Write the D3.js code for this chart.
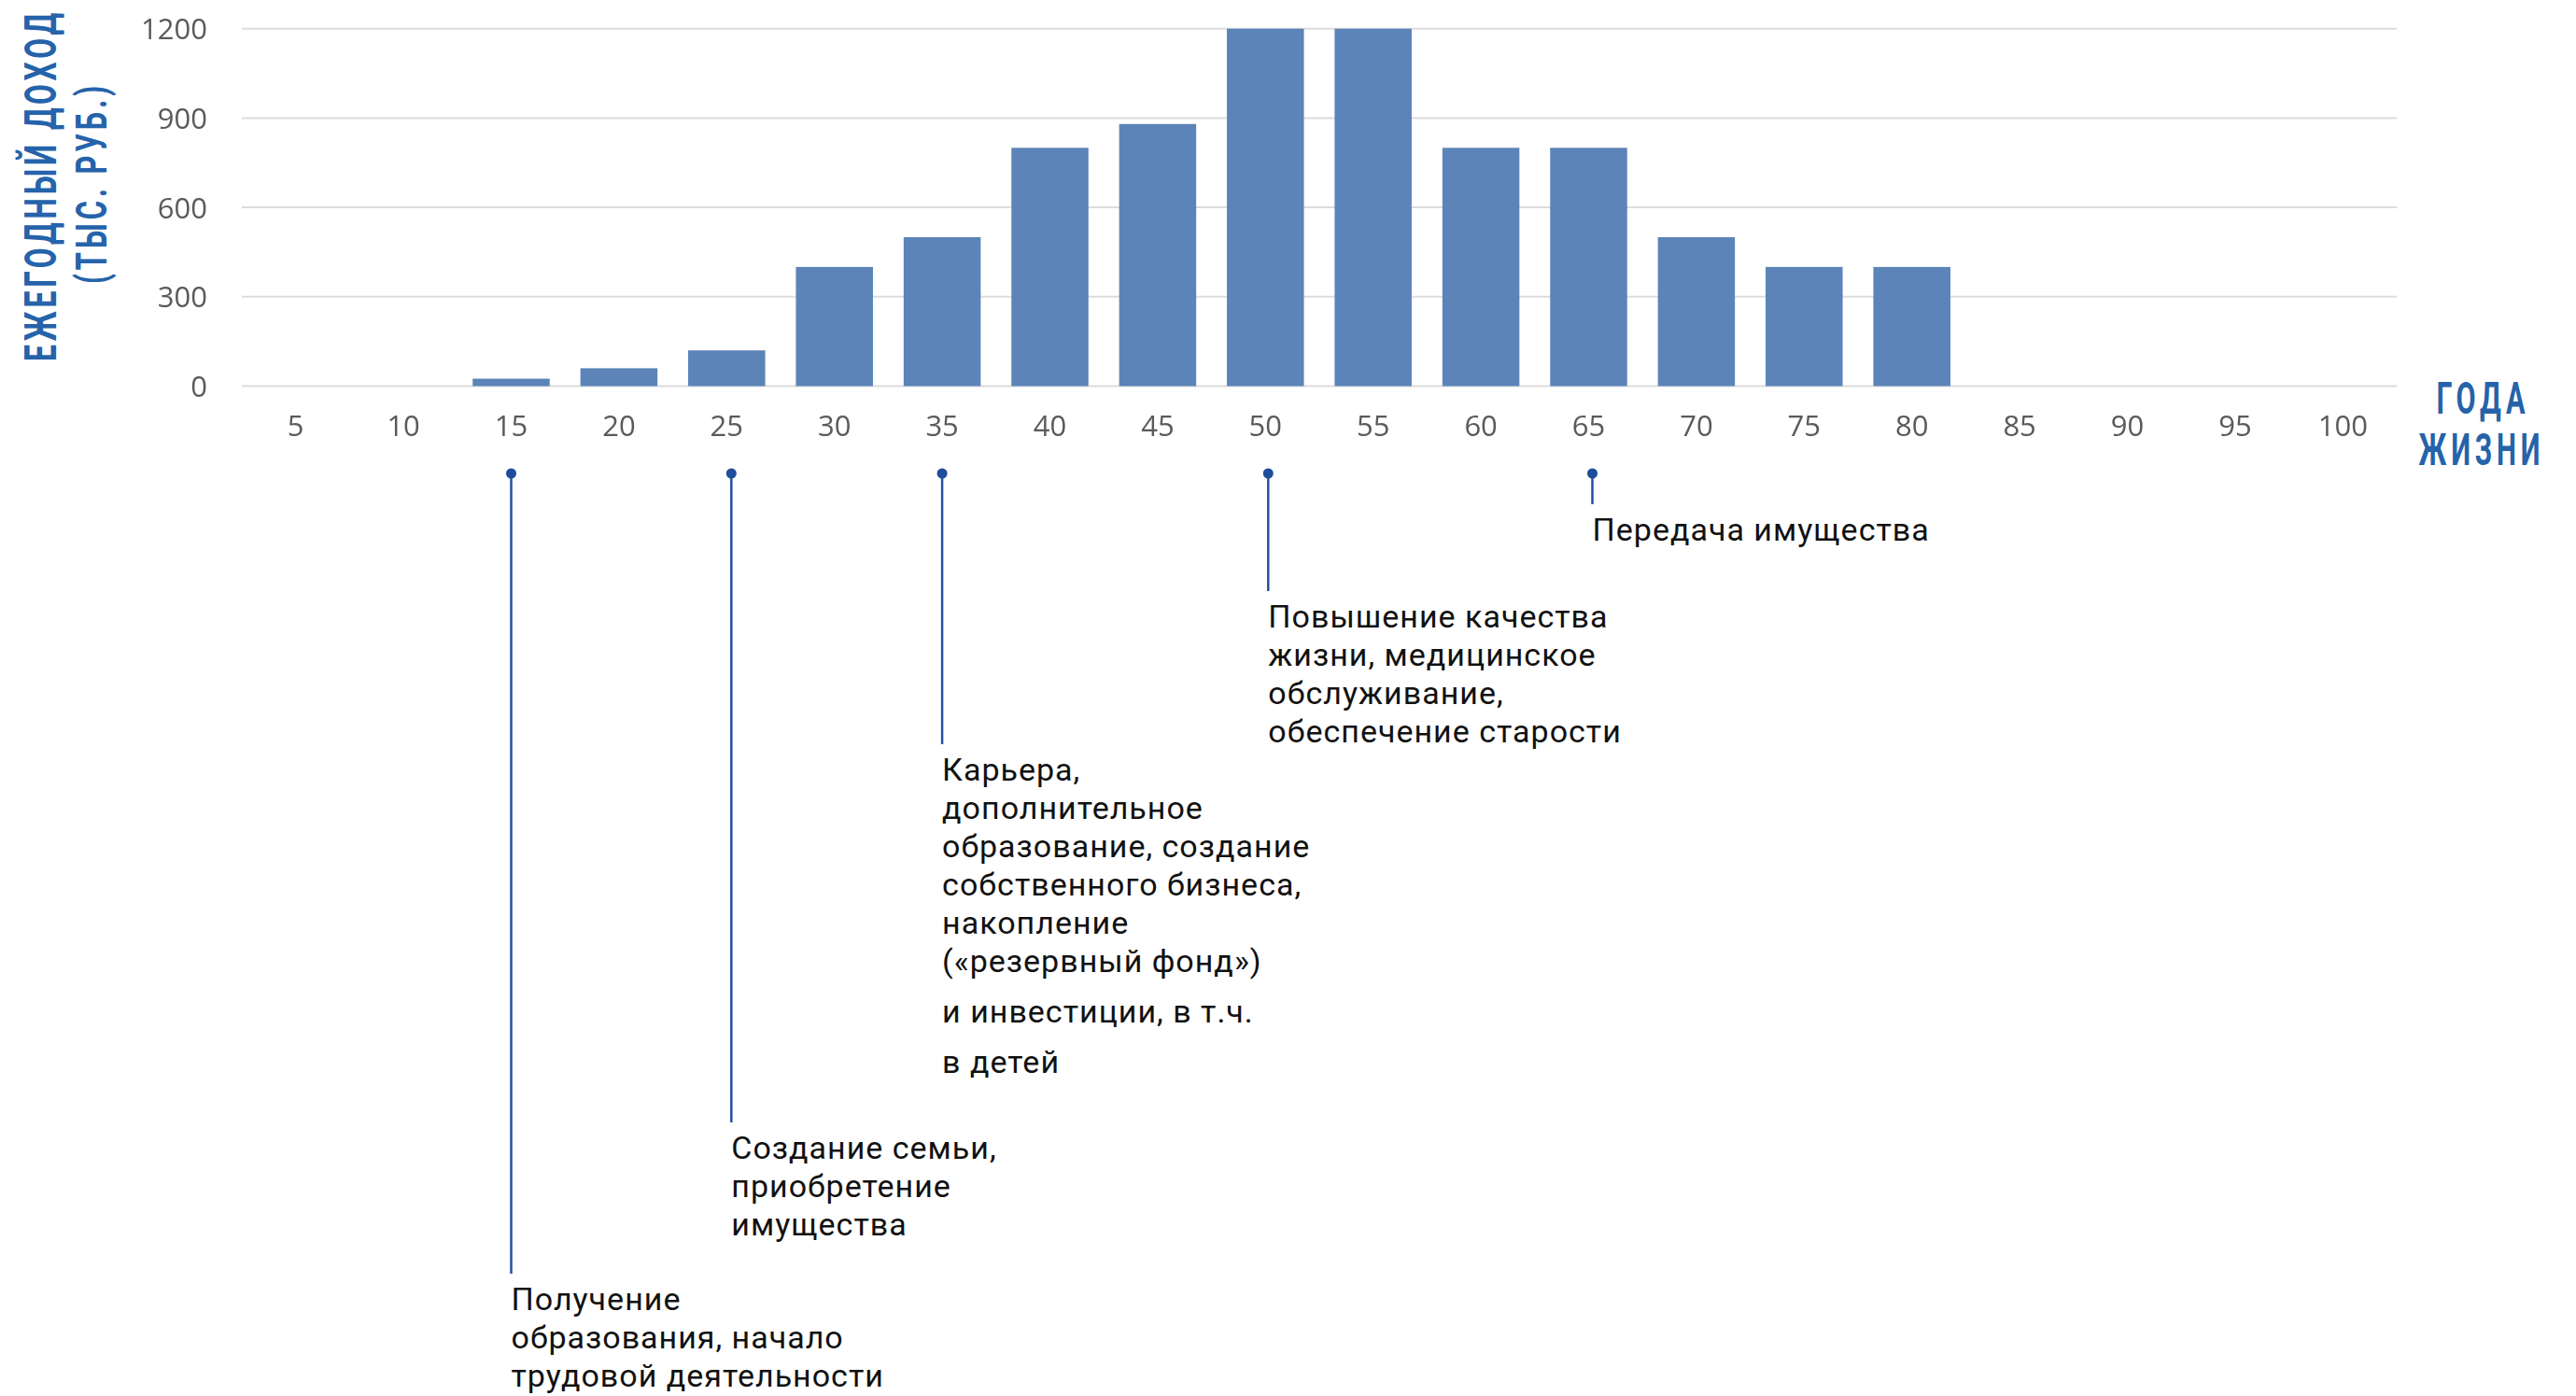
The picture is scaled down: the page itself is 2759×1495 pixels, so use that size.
<!DOCTYPE html>
<html lang="ru">
<head>
<meta charset="utf-8">
<script src="https://cdn.jsdelivr.net/npm/d3@7"></script>
<style>
  html, body { margin: 0; padding: 0; background: #ffffff; }
  svg { display: block; }
</style>
</head>
<body>
<svg id="chart" width="2759" height="1495"></svg>
<script>
// Age groups on the horizontal axis (years of life)
const ages = [5, 10, 15, 20, 25, 30, 35, 40, 45, 50, 55, 60, 65, 70, 75, 80, 85, 90, 95, 100];
// Annual income, thousand roubles
const income = [0, 0, 25, 60, 120, 400, 500, 800, 880, 1200, 1200, 800, 800, 500, 400, 400, 0, 0, 0, 0];
// Value axis ticks
const incomeTicks = [0, 300, 600, 900, 1200];

// Axis titles
const yTitleLines = ["ЕЖЕГОДНЫЙ ДОХОД", "(ТЫС. РУБ.)"];
const xTitleLines = ["ГОДА", "ЖИЗНИ"];

// Life-stage notes: the age each one points at, and its text split into paragraphs of lines
const noteAges = [15, 25, 35, 50, 65];
const noteTexts = [
  [["Получение", "образования, начало", "трудовой деятельности"]],
  [["Создание семьи,", "приобретение", "имущества"]],
  [["Карьера,", "дополнительное", "образование, создание", "собственного бизнеса,", "накопление", "(«резервный фонд»)"],
   ["и инвестиции, в т.ч."],
   ["в детей"]],
  [["Повышение качества", "жизни, медицинское", "обслуживание,", "обеспечение старости"]],
  [["Передача имущества"]]
];

// ---- layout ----
const layout = {
  plotLeft: 259, plotRight: 2567,
  plotBottom: 413.5, plotTop: 30.7,
  tickLabelRight: 222, xLabelTop: 445,
  noteTop: 507,
  noteNudge: [0, 5, 0, 3, 4],
  noteLineEnd: [1364, 1202, 797, 633, 540],
  noteTextGap: 39, noteLineHeight: 41, noteParaHeight: 54
};

const BAR = "#5b84b8";
const GRID = "#dcdcdc";
const TICK = "#5a5a5a";
const TITLE = "#2563aa";
const NOTE_LINE = "#2650a2";

const svg = d3.select("#chart");

const defs = svg.append("defs");
defs.append("filter").attr("id", "soft")
  .attr("x", "-5%").attr("y", "-5%").attr("width", "110%").attr("height", "110%")
  .append("feGaussianBlur").attr("stdDeviation", 0.6);

const x = d3.scaleBand()
  .domain(ages)
  .range([layout.plotLeft, layout.plotRight])
  .paddingInner(0.285)
  .paddingOuter(0.1425);

const y = d3.scaleLinear()
  .domain([0, 1200])
  .range([layout.plotBottom, layout.plotTop]);

const chart = svg.append("g").attr("filter", "url(#soft)");

// horizontal gridlines
chart.append("g").selectAll("line")
  .data(incomeTicks)
  .join("line")
  .attr("x1", layout.plotLeft)
  .attr("x2", layout.plotRight)
  .attr("y1", d => y(d))
  .attr("y2", d => y(d))
  .attr("stroke", GRID)
  .attr("stroke-width", 2);

// bars
chart.append("g").selectAll("rect")
  .data(ages.map((a, i) => ({ age: a, value: income[i] })).filter(d => d.value > 0))
  .join("rect")
  .attr("x", d => x(d.age))
  .attr("width", x.bandwidth())
  .attr("y", d => y(d.value))
  .attr("height", d => y(0) - y(d.value))
  .attr("fill", BAR);

// value axis labels
const yAxis = chart.append("g")
  .attr("transform", `translate(${layout.tickLabelRight},0)`)
  .call(d3.axisLeft(y).tickValues(incomeTicks).tickFormat(d3.format("d")).tickSize(0).tickPadding(0));
yAxis.select(".domain").remove();
yAxis.selectAll("text")
  .attr("font-family", "'Open Sans', 'Noto Sans', sans-serif")
  .attr("font-size", 31)
  .attr("fill", TICK)
  .attr("dy", "0.36em");

// age axis labels
const xAxis = chart.append("g")
  .attr("transform", `translate(0,${layout.xLabelTop})`)
  .call(d3.axisBottom(x).tickSize(0).tickPadding(0));
xAxis.select(".domain").remove();
xAxis.selectAll("text")
  .attr("font-family", "'Open Sans', 'Noto Sans', sans-serif")
  .attr("font-size", 31)
  .attr("fill", TICK)
  .attr("dy", "0.71em");

// Condensed heading text: natural Roboto Bold, narrowed to a target length
function condensedText(parent, str, cx, cy, size, spacing, targetLen, rotate) {
  const g = parent.append("g").attr("transform", `translate(${cx},${cy})${rotate ? " rotate(-90)" : ""}`);
  const t = g.append("text")
    .attr("font-family", "Roboto, 'Noto Sans', sans-serif")
    .attr("font-weight", 700)
    .attr("font-size", size)
    .attr("letter-spacing", spacing)
    .attr("fill", TITLE)
    .attr("text-anchor", "middle")
    .text(str);
  const natural = t.node().getComputedTextLength() - spacing;
  t.attr("transform", `scale(${targetLen / natural},1)`);
  return t;
}

const titles = svg.append("g");
// value axis title, rotated (baseline x, centre y)
condensedText(titles, yTitleLines[0], 60, 198.5, 49, 6, 373, true);
condensedText(titles, yTitleLines[1], 114, 196, 46, 6, 212, true);
// age axis title
condensedText(titles, xTitleLines[0], 2659.5, 443, 49, 8, 95, false);
condensedText(titles, xTitleLines[1], 2658, 498, 49, 8, 130, false);

// life-stage notes: pin, leader line and text
const notes = svg.append("g").selectAll("g")
  .data(noteAges.map((a, i) => ({
    age: a, paras: noteTexts[i], end: layout.noteLineEnd[i], nudge: layout.noteNudge[i]
  })))
  .join("g")
  .attr("transform", d => `translate(${x(d.age) + x.bandwidth() / 2 + d.nudge},0)`);

notes.append("line")
  .attr("x1", 0).attr("x2", 0)
  .attr("y1", layout.noteTop)
  .attr("y2", d => d.end)
  .attr("stroke", NOTE_LINE)
  .attr("stroke-width", 2.5);

notes.append("circle")
  .attr("cx", 0)
  .attr("cy", layout.noteTop)
  .attr("r", 5.5)
  .attr("fill", "#1f4d9c");

notes.each(function (d) {
  const t = d3.select(this).append("text")
    .attr("font-family", "Roboto, 'Noto Sans', sans-serif")
    .attr("font-size", 34)
    .attr("letter-spacing", 1)
    .attr("fill", "#111111");
  let yy = d.end + layout.noteTextGap;
  d.paras.forEach((para, pi) => {
    if (pi > 0) yy += layout.noteParaHeight - layout.noteLineHeight;
    para.forEach(line => {
      t.append("tspan").attr("x", 0).attr("y", yy).text(line);
      yy += layout.noteLineHeight;
    });
  });
});
</script>
</body>
</html>
